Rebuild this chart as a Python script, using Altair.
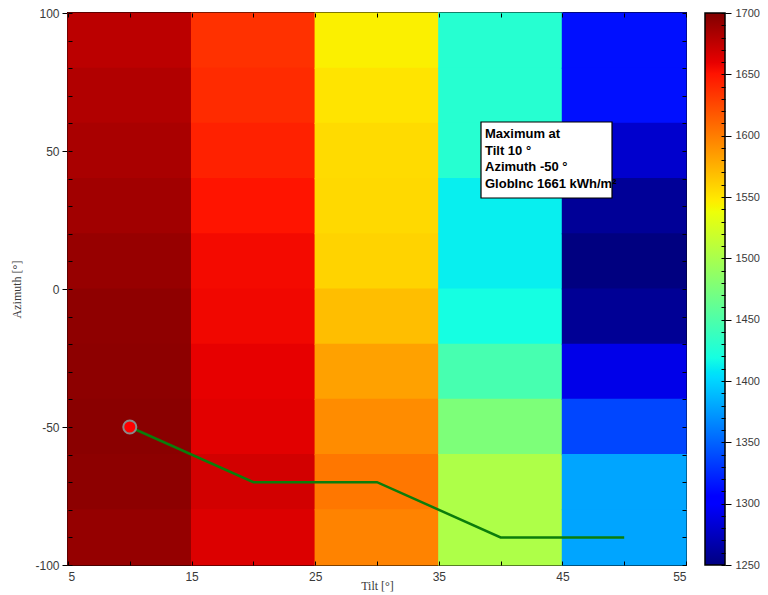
import altair as alt
import pandas as pd

# ---- data ----
TILTS = [10, 20, 30, 40, 50]
AZIMUTHS = [90, 70, 50, 30, 10, -10, -30, -50, -70, -90]
# GlobInc [kWh/m2] per tilt column (rows follow AZIMUTHS, top to bottom)
VALUES = {
    10: [1677, 1681, 1684, 1687, 1691, 1694, 1695, 1696, 1695, 1692],
    20: [1636, 1639, 1644, 1650, 1655, 1656, 1660, 1662, 1668, 1664],
    30: [1545, 1551, 1555, 1556, 1559, 1569, 1583, 1593, 1603, 1597],
    40: [1428, 1428, 1428, 1412, 1412, 1419, 1446, 1476, 1503, 1503],
    50: [1313, 1313, 1280, 1259, 1250, 1258, 1291, 1337, 1379, 1379],
}
PATH_TILT = [10, 20, 30, 40, 50]
PATH_AZIMUTH = [-50, -70, -70, -90, -90]
MAX_TILT = [10]
MAX_AZIMUTH = [-50]
ANNOT_LINES = ["Maximum at", "Tilt 10 °", "Azimuth -50 °", "GlobInc 1661 kWh/m²"]
X_TICKS = [5, 10, 15, 20, 25, 30, 35, 40, 45, 50, 55]
Y_TICKS = [-100, -50, 0, 50, 100]
Y_MINOR = [-100, -90, -80, -70, -60, -50, -40, -30, -20, -10, 0,
           10, 20, 30, 40, 50, 60, 70, 80, 90, 100]
CBAR_TICKS = [1250, 1300, 1350, 1400, 1450, 1500, 1550, 1600, 1650, 1700]
CBAR_MINOR = [1250, 1260, 1270, 1280, 1290, 1300, 1310, 1320, 1330, 1340,
              1350, 1360, 1370, 1380, 1390, 1400, 1410, 1420, 1430, 1440,
              1450, 1460, 1470, 1480, 1490, 1500, 1510, 1520, 1530, 1540,
              1550, 1560, 1570, 1580, 1590, 1600, 1610, 1620, 1630, 1640,
              1650, 1660, 1670, 1680, 1690, 1700]

# jet colormap stops (fraction of range, colour)
JET_T = [0, 0.11, 0.125, 0.34, 0.35, 0.375, 0.64, 0.65, 0.66, 0.89, 0.91, 1.0]
JET_C = ["#000080", "#0000ff", "#0000ff", "#00dbff", "#00e5f7", "#15ffe2",
         "#eeff08", "#f7f500", "#ffec00", "#ff1300", "#e80000", "#800000"]
VMIN, VMAX = 1250, 1700
jet_domain = [VMIN + t * (VMAX - VMIN) for t in JET_T]

rows = []
for t in TILTS:
    for a, v in zip(AZIMUTHS, VALUES[t]):
        rows.append({"tilt": t, "azimuth": a, "value": v})
grid = pd.DataFrame(rows)
path = pd.DataFrame({"tilt": PATH_TILT, "azimuth": PATH_AZIMUTH})
maxpt = pd.DataFrame({"tilt": MAX_TILT, "azimuth": MAX_AZIMUTH})
cb_major = pd.DataFrame({"v": CBAR_TICKS})
cb_minor = pd.DataFrame({"v": CBAR_MINOR})

W, H = 618, 552
FONT = "Liberation Sans"
LBL = "#3a3a3a"
xscale = alt.Scale(domain=[5, 55], nice=False, zero=False)
yscale = alt.Scale(domain=[-100, 100], nice=False, zero=False)
cbscale = alt.Scale(domain=[VMIN, VMAX], nice=False, zero=False)
cscale = alt.Scale(domain=jet_domain, range=JET_C, interpolate="rgb")


def tick_axis(orient, values, offset, size=4):
    return alt.Axis(orient=orient, values=values, labels=False, title=None,
                    grid=False, domain=False, tickSize=size, offset=offset,
                    tickColor="black", tickWidth=1, zindex=1)


# cells: edges widened by a hair so neighbouring cells overlap (no AA seams)
heat = alt.Chart(grid).mark_rect().transform_calculate(
    x0="datum.tilt - 5.05", x1="datum.tilt + 5.05",
    y0="datum.azimuth - 10.2", y1="datum.azimuth + 10.2",
).encode(
    x=alt.X("x0:Q", scale=xscale, title="Tilt [°]",
            axis=alt.Axis(values=X_TICKS, grid=False, tickSize=4, tickColor="black",
                          offset=-4, domain=False, zindex=1, labelFont=FONT,
                          labelFontSize=12, labelColor=LBL, labelPadding=6,
                          labelExpr="datum.value % 10 == 5 ? '' + datum.value : ''",
                          titleFont="Liberation Serif", titleFontSize=12,
                          titleFontWeight="normal", titleColor=LBL,
                          titleY=19, titleBaseline="top")),
    x2="x1:Q",
    y=alt.Y("y0:Q", scale=yscale, title="Azimuth [°]",
            axis=alt.Axis(values=Y_TICKS, grid=False, tickSize=6, tickColor="black",
                          domain=False, labelFont=FONT, labelFontSize=12,
                          labelColor=LBL, labelPadding=3,
                          labelExpr="'' + datum.value",
                          titleFont="Liberation Serif", titleFontSize=12,
                          titleFontWeight="normal", titleColor=LBL, titlePadding=11)),
    y2="y1:Q",
    color=alt.Color("value:Q", scale=cscale, legend=None),
)

line = alt.Chart(path).mark_line(color="#0b7d0b", strokeWidth=2.5).encode(
    x=alt.X("tilt:Q", scale=xscale, axis=tick_axis("top", X_TICKS, -4)),
    y=alt.Y("azimuth:Q", scale=yscale, axis=tick_axis("right", Y_MINOR, -4)))

pt = alt.Chart(maxpt).mark_point(filled=True, shape="circle", size=170, fill="red",
                                 stroke="#8a8a8a", strokeWidth=2, opacity=1).encode(
    x=alt.X("tilt:Q", scale=xscale, axis=None),
    y=alt.Y("azimuth:Q", scale=yscale, axis=tick_axis("left", Y_MINOR, -4)))

box = alt.Chart(maxpt).mark_rect(fill="white", stroke="black", strokeWidth=1.2).encode(
    x=alt.value(413), x2=alt.value(544), y=alt.value(109), y2=alt.value(185))

txt = alt.Chart(maxpt).mark_text(align="left", baseline="middle", font=FONT,
                                 fontSize=13, fontWeight="bold", color="black",
                                 lineBreak="\n", lineHeight=16.7).encode(
    x=alt.value(417), y=alt.value(121), text=alt.value("\n".join(ANNOT_LINES)))

# colour bar: gradient-filled rect with its own value axis
jet_gradient = alt.LinearGradient(
    gradient="linear", x1=0, x2=0, y1=1, y2=0,
    stops=[alt.GradientStop(color=c, offset=t) for t, c in zip(JET_T, JET_C)])
cbar = alt.Chart(maxpt).mark_rect(fill=jet_gradient, stroke="black",
                                  strokeWidth=1.5).encode(
    x=alt.value(W + 19), x2=alt.value(W + 39), y=alt.value(0), y2=alt.value(H))

cb_axis = alt.Chart(cb_major).mark_point(opacity=0).encode(
    x=alt.value(W + 30),
    y=alt.Y("v:Q", scale=cbscale,
            axis=alt.Axis(orient="right", values=CBAR_TICKS, offset=39, grid=False,
                          domain=False, tickSize=6, tickColor="black", zindex=1,
                          labelFont=FONT, labelFontSize=11, labelColor=LBL,
                          labelPadding=4, labelExpr="'' + datum.value",
                          labelBaseline="middle", labelOverlap=False, title=None)))

cb_minor_axis = alt.Chart(cb_minor).mark_point(opacity=0).encode(
    x=alt.value(W + 30),
    y=alt.Y("v:Q", scale=cbscale, axis=tick_axis("right", CBAR_MINOR, 35)))

chart = alt.layer(heat, line, pt, box, txt, cbar, cb_axis, cb_minor_axis).resolve_scale(
    y="independent"
).resolve_axis(
    x="independent", y="independent"
).properties(
    width=W, height=H,
    autosize=alt.AutoSizeParams(type="none"),
    padding={"left": 60, "top": 5, "right": 74, "bottom": 27},
).configure_view(stroke="black", strokeWidth=2)

chart.save("out.html", embed_options={"renderer": "svg", "actions": False})
